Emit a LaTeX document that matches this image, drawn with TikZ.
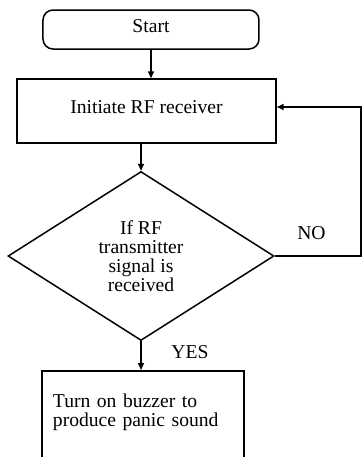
\documentclass[tikz,border=0pt]{standalone}
\usepackage{fontspec}
\setmainfont{Liberation Serif}
\usetikzlibrary{shapes.geometric,arrows.meta}
\begin{document}
\begin{tikzpicture}[x=0.5pt, y=-0.5pt, line width=0.75pt,
            txt/.style={font=\fontsize{9.8}{9.5}\selectfont},
            startbox/.style={txt, draw, rectangle, rounded corners=5pt, minimum width=108pt, minimum height=19.5pt, text depth=3.5pt},
            procbox/.style={txt, draw, rectangle, minimum width=129.5pt, minimum height=32pt, text depth=4pt},
            decision/.style={txt, draw, diamond, inner sep=0pt, align=center, minimum width=133pt, minimum height=84.5pt},
            actbox/.style={txt, draw, rectangle, align=left, text width=90pt, inner xsep=5.5pt, inner ysep=11.5pt, text depth=50pt},
            lbl/.style={txt, inner sep=0pt},
            arr/.style={-{Triangle[length=3.5pt,width=3pt]}}]
            \path[use as bounding box, clip] (0,0) rectangle (362,457);

            \node at (151,29.5) [startbox] (start) {Start};
            \node at (146.5,111) [procbox] (init) {Initiate RF receiver};
            \node at (141,256) [decision] (check) {If RF\\transmitter\\signal is\\received};
            \node at (143,370) [actbox, anchor=north] (buzz) {Turn on buzzer to\\produce panic sound};
            \coordinate (noturn) at (361,256);

            \node at (311.5,233) [lbl] (no) {NO};
            \node at (190,352) [lbl] (yes) {YES};

            \draw[arr] (start.south) -- (start.south |- init.north);
            \draw[arr] (init.south -| check.north) -- (check.north);
            \draw[arr] (check.south) -- (check.south |- buzz.north);
            \draw[arr] (check.east) -- (noturn) |- ([yshift=2pt]init.east);
        \end{tikzpicture}
\end{document}
